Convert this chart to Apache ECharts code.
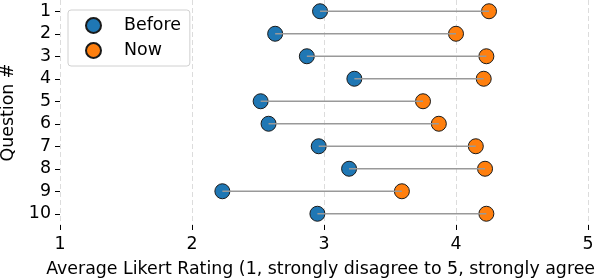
<!DOCTYPE html>
<html><head><meta charset="utf-8">
<script src="https://cdn.jsdelivr.net/npm/echarts@6/dist/echarts.min.js"></script>
<style>html,body{margin:0;padding:0;background:#fff}#c{width:596px;height:278px}</style>
</head><body><div id="c"></div>
<script>
const questions = ['1','2','3','4','5','6','7','8','9','10'];
const before = [2.97, 2.63, 2.87, 3.23, 2.52, 2.58, 2.96, 3.19, 2.23, 2.95];
const now = [4.25, 4.00, 4.23, 4.21, 3.75, 3.87, 4.15, 4.22, 3.59, 4.23];
const xTicks = [1, 2, 3, 4, 5];

const chart = echarts.init(document.getElementById('c'));
const font = 'DejaVu Sans';
const fs = 17.4;
chart.setOption({
  animation: false,
  grid: {left: 60, right: 8, top: 0, bottom: 53, outerBoundsMode: 'none', containLabel: false},
  xAxis: {
    type: 'value', min: xTicks[0], max: xTicks[xTicks.length-1], interval: 1,
    name: 'Average Likert Rating (1, strongly disagree to 5, strongly agree)',
    nameLocation: 'middle', nameGap: 36,
    nameTextStyle: {fontFamily: font, fontSize: fs, color: '#000'},
    axisLine: {show: false},
    axisTick: {show: true, length: 5, inside: false, lineStyle: {color: '#000', width: 1}},
    axisLabel: {fontFamily: font, fontSize: fs, color: '#000', margin: 11},
    splitLine: {show: true, lineStyle: {color: '#dcdcdc', type: [5, 3], width: 1}}
  },
  yAxis: {
    type: 'category', data: questions, inverse: true,
    name: 'Question #', nameLocation: 'middle', nameGap: 43, nameRotate: 90,
    nameTextStyle: {fontFamily: font, fontSize: fs, color: '#000'},
    axisLine: {show: false},
    axisTick: {show: true, alignWithLabel: true, length: 5, lineStyle: {color: '#000'}},
    axisLabel: {fontFamily: font, fontSize: fs, color: '#000', margin: 9},
    splitLine: {show: false}
  },
  legend: {
    orient: 'vertical', left: 68, top: 10,
    data: ['Before', 'Now'],
    icon: 'circle', itemWidth: 15, itemHeight: 15, itemGap: 8,
    padding: [7, 9, 7, 17],
    borderColor: '#d0d0d0', borderWidth: 1, borderRadius: 3,
    textStyle: {fontFamily: font, fontSize: fs, color: '#000', padding: [0, 0, 0, 18]}
  },
  series: [
    {
      name: 'Before', type: 'scatter', symbolSize: 15, z: 2,
      data: questions.map((q, i) => [before[i], q]),
      itemStyle: {color: '#1f77b4', borderColor: '#1a1a1a', borderWidth: 1, opacity: 1}
    },
    {
      name: 'Now', type: 'scatter', symbolSize: 15, z: 2,
      data: questions.map((q, i) => [now[i], q]),
      itemStyle: {color: '#ff7f0e', borderColor: '#1a1a1a', borderWidth: 1, opacity: 1}
    },
    {
      name: 'link', type: 'custom', z: 3,
      data: questions.map((q, i) => [before[i], now[i], q]),
      renderItem: function (params, api) {
        const p1 = api.coord([api.value(0), api.value(2)]);
        const p2 = api.coord([api.value(1), api.value(2)]);
        return {type: 'line', shape: {x1: p1[0], y1: p1[1], x2: p2[0], y2: p2[1]},
          style: {stroke: '#999999', lineWidth: 1.3}};
      },
      encode: {x: [0, 1], y: 2}
    }
  ]
});
</script></body></html>
